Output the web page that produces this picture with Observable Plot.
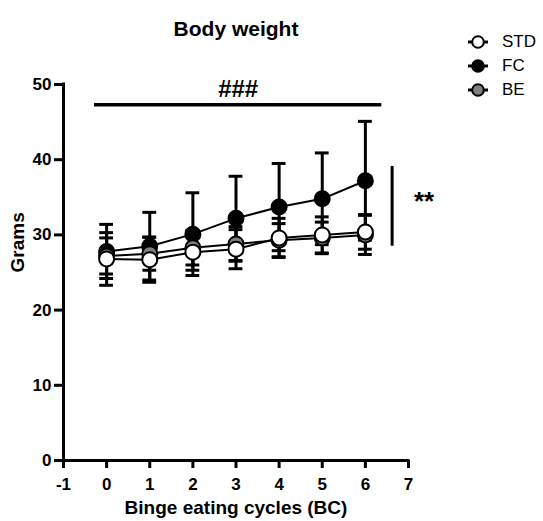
<!DOCTYPE html>
<html><head><meta charset="utf-8">
<script src="https://cdn.jsdelivr.net/npm/d3@7"></script>
<script src="https://cdn.jsdelivr.net/npm/@observablehq/plot@0.6"></script>
<style>
body{margin:0;background:#fff;font-family:"Liberation Sans",Arial,sans-serif;}
#wrap{position:relative;width:543px;height:521px;}
#legend{position:absolute;left:467px;top:30px;font-size:17px;color:#000;}
.row{display:flex;align-items:center;height:24px;}
.row svg{margin-right:13px;}
</style></head><body><div id="wrap"><div id="legend"></div></div>
<script>
// ---- data ----
const cycles = [0, 1, 2, 3, 4, 5, 6];
const groups = ["STD", "FC", "BE"];
const stdMean = [26.8, 26.7, 27.7, 28.1, 29.6, 30.0, 30.4];
const stdSD   = [3.5, 3.0, 2.4, 2.6, 2.6, 2.4, 2.3];
const fcMean  = [27.8, 28.5, 30.1, 32.2, 33.7, 34.8, 37.2];
const fcSD    = [3.6, 4.5, 5.5, 5.6, 5.8, 6.1, 7.9];
const beMean  = [27.2, 27.5, 28.3, 28.8, 29.3, 29.6, 30.0];
const beSD    = [2.4, 2.2, 2.3, 2.3, 2.2, 2.1, 2.6];
const xTicks = [-1, 0, 1, 2, 3, 4, 5, 6, 7];
const yTicks = [0, 10, 20, 30, 40, 50];
const hashSig = [{label: "###", x1: -0.28, x2: 6.38, y: 47.3, ty: 49.3}];
const starSig = [{label: "**", x: 6.62, y1: 28.5, y2: 39.1, tx: 7.36, ty: 34.4}];
const title = "Body weight";
const xLabel = "Binge eating cycles (BC)";
const yLabel = "Grams";
const fills = {STD: "#ffffff", FC: "#000000", BE: "#808080"};

// ---- build table ----
const means = {STD: stdMean, FC: fcMean, BE: beMean};
const sds = {STD: stdSD, FC: fcSD, BE: beSD};
const rows = [];
for (const g of groups) cycles.forEach((c, i) => rows.push({group: g, x: c, mean: means[g][i], sd: sds[g][i]}));
const drawOrder = ["FC", "BE", "STD"];
const capHalf = 0.16;
const font = "Liberation Sans, Arial, sans-serif";

const marks = [
  Plot.ruleX(rows, {x: "x", y1: d => d.mean - d.sd, y2: d => d.mean + d.sd, strokeWidth: 3}),
  Plot.ruleY(rows, {y: d => d.mean + d.sd, x1: d => d.x - capHalf, x2: d => d.x + capHalf, strokeWidth: 3}),
  Plot.ruleY(rows, {y: d => d.mean - d.sd, x1: d => d.x - capHalf, x2: d => d.x + capHalf, strokeWidth: 3}),
];
for (const g of drawOrder) {
  marks.push(Plot.line(rows.filter(d => d.group === g), {x: "x", y: "mean", stroke: "#000", strokeWidth: 2}));
}
for (const g of drawOrder) {
  marks.push(Plot.dot(rows.filter(d => d.group === g), {x: "x", y: "mean", r: 7.5, fill: fills[g], stroke: "#000", strokeWidth: 2}));
}
marks.push(
  Plot.ruleX([-1], {strokeWidth: 3, strokeLinecap: "square"}),
  Plot.ruleY([0], {strokeWidth: 3, strokeLinecap: "square"}),
  Plot.axisX({ticks: xTicks, tickSize: 8, tickPadding: 9, strokeWidth: 3, fontSize: 17, fontWeight: "bold", label: null, tickFormat: d => String(d)}),
  Plot.axisY({ticks: yTicks, tickSize: 9, tickPadding: 3, strokeWidth: 3, fontSize: 17, fontWeight: "bold", label: null}),
  Plot.ruleY(hashSig, {y: "y", x1: "x1", x2: "x2", strokeWidth: 3.5}),
  Plot.text(hashSig, {x: d => (d.x1 + d.x2) / 2, y: "ty", text: "label", fontSize: 24, fontWeight: "bold"}),
  Plot.ruleX(starSig, {x: "x", y1: "y1", y2: "y2", strokeWidth: 3}),
  Plot.text(starSig, {x: "tx", y: "ty", text: "label", fontSize: 26, fontWeight: "bold"}),
  Plot.text([title], {frameAnchor: "top", dy: -63, fontSize: 21, fontWeight: "bold"}),
  Plot.text([xLabel], {frameAnchor: "bottom", dy: 53, fontSize: 19, fontWeight: "bold"}),
  Plot.text([yLabel], {frameAnchor: "left", dx: -46, rotate: -90, fontSize: 19, fontWeight: "bold"})
);

const chart = Plot.plot({
  width: 543, height: 521,
  marginLeft: 63, marginRight: 135, marginTop: 84, marginBottom: 61,
  x: {domain: [-1, 7]},
  y: {domain: [0, 50]},
  style: {fontFamily: font, color: "#000", background: "#fff", overflow: "visible"},
  marks
});
const wrap = document.getElementById("wrap");
wrap.insertBefore(chart, wrap.firstChild);

// legend
const leg = document.getElementById("legend");
for (const g of groups) {
  const row = document.createElement("div");
  row.className = "row";
  row.innerHTML = `<svg width="22" height="16"><line x1="1" y1="8" x2="21" y2="8" stroke="#000" stroke-width="3"/><circle cx="11" cy="8" r="5.8" fill="${fills[g]}" stroke="#000" stroke-width="2"/></svg><span>${g}</span>`;
  leg.appendChild(row);
}
</script></body></html>
